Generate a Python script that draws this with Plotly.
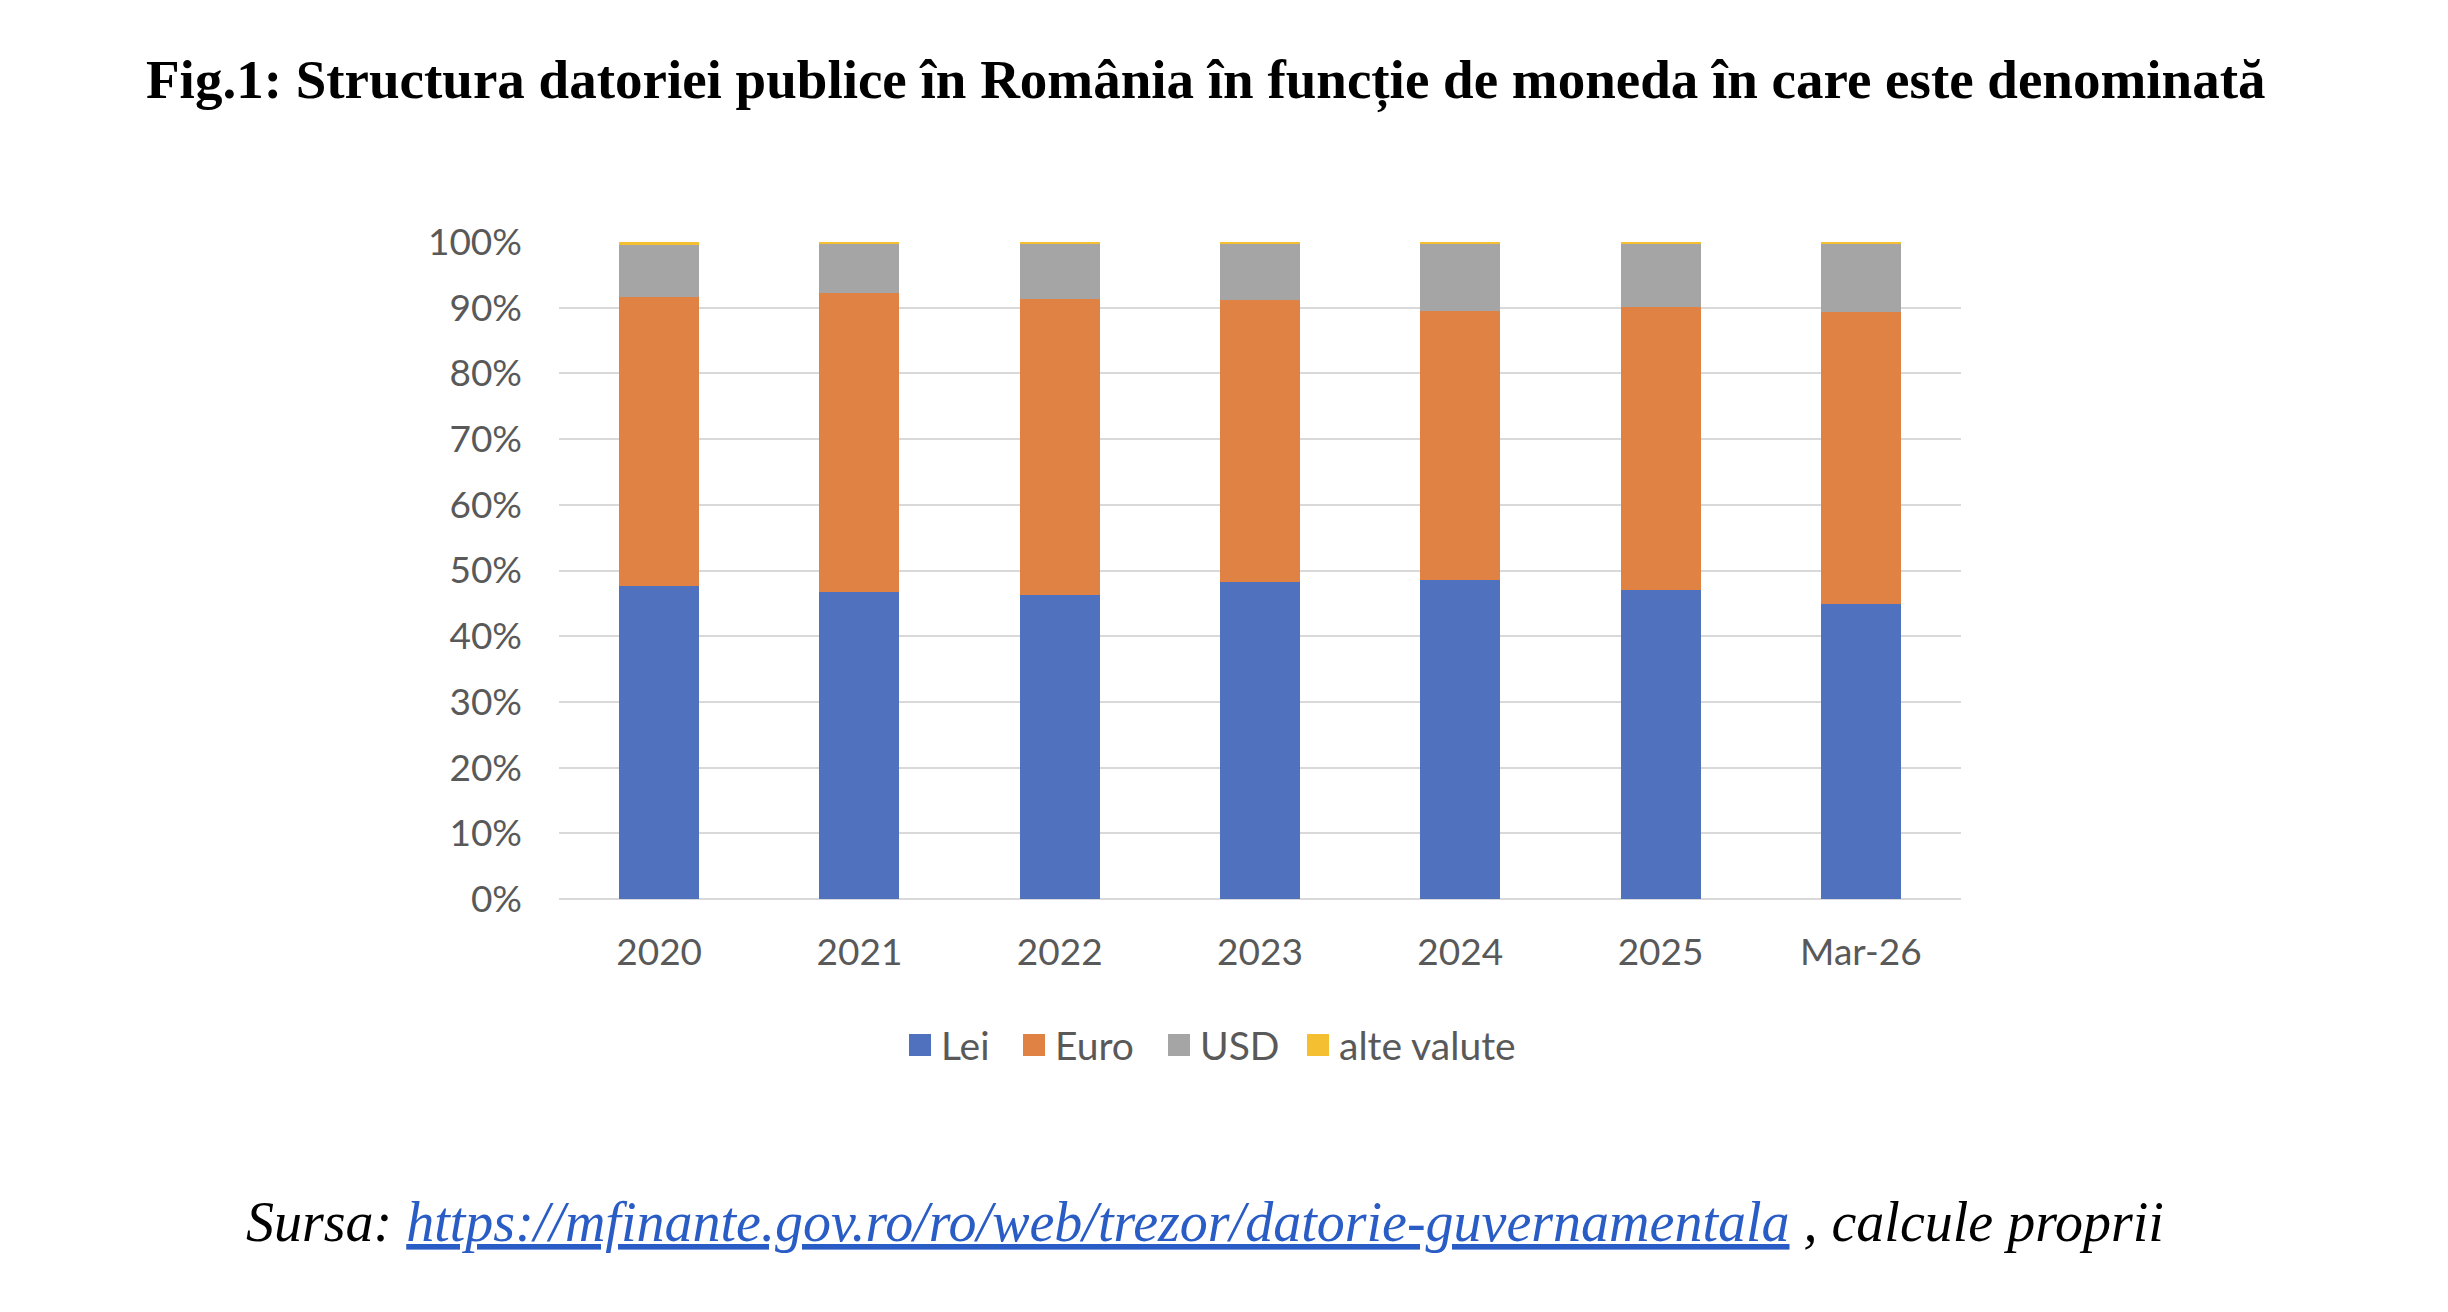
import plotly.graph_objects as go

categories = ["2020", "2021", "2022", "2023", "2024", "2025", "Mar-26"]
lei = [47.7, 46.7, 46.2, 48.2, 48.5, 47.1, 44.9]
euro = [43.9, 45.5, 45.1, 42.9, 41.0, 43.0, 44.4]
usd = [8.0, 7.55, 8.45, 8.7, 10.3, 9.7, 10.5]
alte = [0.4, 0.25, 0.25, 0.2, 0.2, 0.2, 0.2]
tick_vals = [0, 10, 20, 30, 40, 50, 60, 70, 80, 90, 100]
tick_text = [f"{v}%" for v in tick_vals]

series_names = ["Lei", "Euro", "USD", "alte valute"]
series_values = [lei, euro, usd, alte]
series_colors = ["#5071BE", "#E08244", "#A5A5A5", "#F4C032"]

W, H = 2448, 1312
L, R, T, B = 559, 487, 242, 413
pw, ph = W - L - R, H - T - B

def ypix(p):
    return (H - B - p) / ph

def xpix(p):
    return (p - L) / pw

fig = go.Figure()
for name, vals, col in zip(series_names, series_values, series_colors):
    fig.add_trace(go.Bar(x=categories, y=vals, name=name, showlegend=False,
                         marker=dict(color=col, line=dict(width=0))))

tick_font = dict(family="Lato, Carlito, sans-serif", size=37, color="#595959")
legend_font = dict(family="Lato, Carlito, sans-serif", size=39, color="#595959")

annotations = [
    dict(text="<b>Fig.1: Structura datoriei publice în România în funcție de moneda în care este denominată</b>",
         xref="paper", yref="paper", x=xpix(1205), y=ypix(81), xanchor="center", yanchor="middle",
         showarrow=False, font=dict(family="Liberation Serif, Times New Roman, serif", size=55, color="black")),
    dict(text="<i>Sursa: <span style='color:#2A5CC6'><u>https://mfinante.gov.ro/ro/web/trezor/datorie-guvernamentala</u></span> , calcule proprii</i>",
         xref="paper", yref="paper", x=xpix(1205), y=ypix(1222), xanchor="center", yanchor="middle",
         showarrow=False, font=dict(family="Liberation Serif, Times New Roman, serif", size=56, color="black")),
]

# custom legend (larger square swatches, as in the reference)
swatch_x = [909, 1023, 1168, 1307]
legend_yc = 1045
sw = 22
shapes = []
for name, col, sx in zip(series_names, series_colors, swatch_x):
    shapes.append(dict(type="rect", xref="paper", yref="paper",
                       x0=xpix(sx), x1=xpix(sx + sw), y0=ypix(legend_yc + sw / 2), y1=ypix(legend_yc - sw / 2),
                       fillcolor=col, line=dict(width=0)))
    annotations.append(dict(text=name, xref="paper", yref="paper", x=xpix(sx + sw + 8), y=ypix(legend_yc),
                            xanchor="left", yanchor="middle", showarrow=False, font=legend_font))

fig.update_layout(
    barmode="stack",
    bargap=0.6,
    width=W, height=H,
    paper_bgcolor="white", plot_bgcolor="white",
    margin=dict(l=L, r=R, t=T, b=B),
    showlegend=False,
    xaxis=dict(tickfont=tick_font, showgrid=False, showline=False, ticks="", ticklabelstandoff=28),
    yaxis=dict(range=[0, 100], tickvals=tick_vals, ticktext=tick_text, tickfont=tick_font,
               showgrid=True, gridcolor="#D9D9D9", gridwidth=2, zeroline=True,
               zerolinecolor="#D9D9D9", zerolinewidth=2, ticks="", ticklabelstandoff=36),
    annotations=annotations,
    shapes=shapes,
)

fig.write_html("out.html")
